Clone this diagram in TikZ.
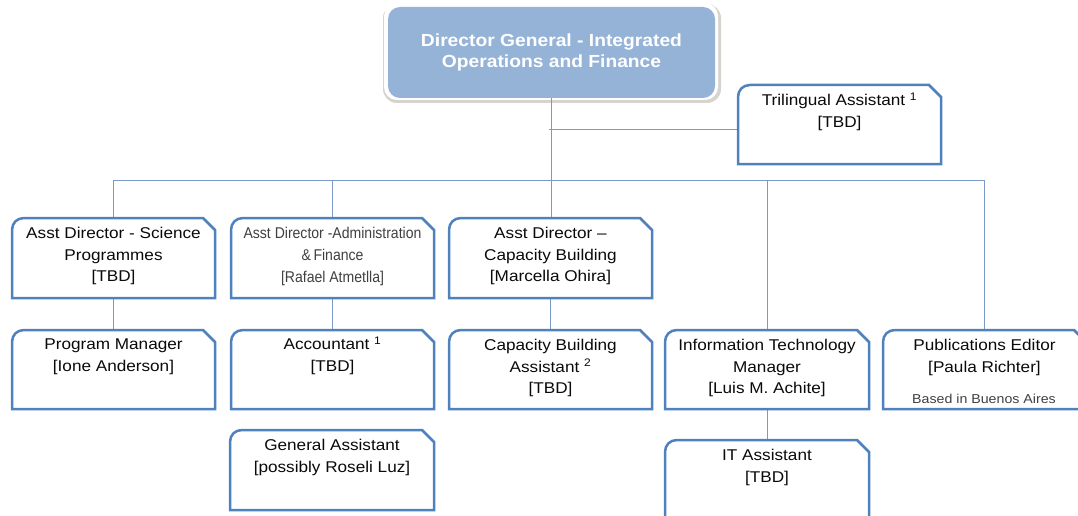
\documentclass[tikz,border=0pt]{standalone}
\usepackage{fontspec}
\setmainfont{Liberation Sans}[FakeStretch=1.1]
\newfontfamily\narrowfont{Liberation Sans}[FakeStretch=0.9]
\usetikzlibrary{calc}
\definecolor{boxblue}{RGB}{79,129,189}
\definecolor{linkblue}{RGB}{122,154,200}
\definecolor{dgfill}{RGB}{149,179,215}
\definecolor{txt}{RGB}{10,10,10}
\definecolor{greytxt}{RGB}{64,64,64}
\definecolor{shadowgrey}{RGB}{215,212,208}
\tikzset{
  slot/.style={inner sep=0pt, outer sep=0pt, draw=none},
  boxline/.style={draw=boxblue, line width=2.5pt, fill=white, line join=miter},
  link/.style={draw=linkblue, line width=1pt},
  lbl/.style={anchor=north, align=center, inner sep=0pt, text=txt, font=\fontsize{15.6}{21.5}\selectfont},
  narrowlbl/.style={anchor=north, align=center, inner sep=0pt, text=greytxt, font=\narrowfont\fontsize{15.6}{22}\selectfont},
  notelbl/.style={anchor=base, inner sep=0pt, text=greytxt, font=\fontsize{12.9}{15}\selectfont},
  dgbox/.style={fill=dgfill, rounded corners=12pt, inner sep=0pt, outer sep=0pt, align=center, text=white, font=\bfseries\fontsize{17.5}{21.5}\selectfont},
}
\newcommand\orgbox[5]{%
  \node[slot, minimum width={#4-#2}, minimum height={#5-#3}] (#1) at ({(#2+#4)/2},{(#3+#5)/2}) {};
  \draw[boxline] (#1.south west) -- ($(#1.north west)+(0,12)$)
    .. controls ($(#1.north west)+(0,5)$) and ($(#1.north west)+(5,0)$) .. ($(#1.north west)+(12,0)$)
    -- ($(#1.north east)+(-12,0)$) -- ($(#1.north east)+(0,12)$) -- (#1.south east) -- cycle;
}
\begin{document}
\begin{tikzpicture}[x=1pt, y=-1pt]
\clip (0,0) rectangle (1078,516);
\fill[white] (0,0) rectangle (1078,516);

% Director General
\fill[shadowgrey, rounded corners=14pt] (383,4) rectangle (721,103);
\fill[white, rounded corners=13pt] (384,3) rectangle (718,100);
\node[dgbox, minimum width=327pt, minimum height=91pt] (dg) at (551.5,52.5)
  {Director General - Integrated\\Operations and Finance};

% slots (positions) of the boxes
\node[slot, minimum width=203pt, minimum height=79pt] (tri) at (839.5,124.5) {};
\node[slot, minimum width=203pt, minimum height=80pt] (sci) at (113.5,258) {};
\node[slot, minimum width=203pt, minimum height=80pt] (adm) at (332.5,258) {};
\node[slot, minimum width=203pt, minimum height=80pt] (cap) at (550.5,258) {};
\node[slot, minimum width=203pt, minimum height=79pt] (itm) at (767,369.5) {};
\node[slot, minimum width=203pt, minimum height=79pt] (pub) at (984.5,369.5) {};
\node[slot, minimum width=203pt, minimum height=79pt] (pm) at (113.5,369.5) {};
\node[slot, minimum width=203pt, minimum height=79pt] (acc) at (332.5,369.5) {};
\node[slot, minimum width=203pt, minimum height=79pt] (cba) at (550.5,369.5) {};
\node[slot, minimum width=203pt, minimum height=80pt] (ga) at (332,470) {};
\node[slot, minimum width=204pt, minimum height=90pt] (ita) at (767,485) {};

% connectors
\coordinate (busy) at (0,180);
\coordinate (bus) at (dg.south |- busy);
\coordinate (trij) at ([yshift=-5.5pt]tri.west);
\draw[link] (dg.south) -- (dg.south |- cap.north);
\draw[link] (trij) -- ([xshift=-3pt]trij -| dg.south);
\draw[link] (bus) -| (sci.north);
\draw[link] (bus) -| (adm.north);
\draw[link] (bus) -| (itm.north);
\draw[link] (bus) -| (pub.north);
\draw[link] (sci.south) -- (pm.north);
\draw[link] (adm.south) -- (acc.north);
\draw[link] (cap.south) -- (cba.north);
\draw[link] (itm.south) -- (ita.north);

% boxes
\orgbox{trib}{738}{85}{941}{164}
\orgbox{scib}{12}{218}{215}{298}
\orgbox{admb}{231}{218}{434}{298}
\orgbox{capb}{449}{218}{652}{298}
\orgbox{pmb}{12}{330}{215}{409}
\orgbox{accb}{231}{330}{434}{409}
\orgbox{cbab}{449}{330}{652}{409}
\orgbox{itmb}{665}{330}{869}{409}
\orgbox{pubb}{883}{330}{1086}{409}
\orgbox{gab}{230}{430}{434}{510}
\orgbox{itab}{665}{440}{869}{530}

% texts
\node[lbl] (tri-t) at ($(tri.north)+(0,9)$) {Trilingual Assistant \smash{\textsuperscript{1}}\\{[TBD]}};
\node[lbl] (sci-t) at ($(sci.north)+(0,9)$) {Asst Director - Science\\Programmes\\{[TBD]}};
\node[narrowlbl] (adm-t) at ($(adm.north)+(0,9)$) {Asst Director -Administration\\\&\,Finance\\{[Rafael Atmetlla]}};
\node[lbl] (cap-t) at ($(cap.north)+(0,9)$) {Asst Director \textendash\\Capacity Building\\{[Marcella Ohira]}};
\node[lbl] (pm-t) at ($(pm.north)+(0,9)$) {Program Manager\\{[Ione Anderson]}};
\node[lbl] (acc-t) at ($(acc.north)+(0,9)$) {Accountant \smash{\textsuperscript{1}}\\{[TBD]}};
\node[lbl] (cba-t) at ($(cba.north)+(0,9)$) {Capacity Building\\Assistant \smash{\textsuperscript{2}}\\{[TBD]}};
\node[lbl] (itm-t) at ($(itm.north)+(0,9)$) {Information Technology\\Manager\\{[Luis M. Achite]}};
\node[lbl] (pub-t) at ($(pub.north)+(0,9)$) {Publications Editor\\{[Paula Richter]}};
\node[notelbl] (pub-n) at (984,403) {Based in Buenos Aires};
\node[lbl] (ga-t) at ($(ga.north)+(0,9)$) {General Assistant\\{[possibly Roseli Luz]}};
\node[lbl] (ita-t) at ($(ita.north)+(0,9)$) {IT Assistant\\{[TBD]}};
\end{tikzpicture}
\end{document}
